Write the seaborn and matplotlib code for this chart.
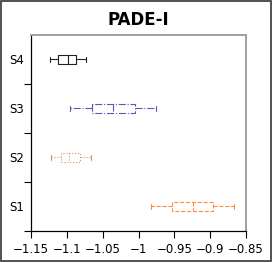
import numpy as np
import pandas as pd
import matplotlib
matplotlib.use("Agg")
import matplotlib.pyplot as plt
from matplotlib.patches import Rectangle
import seaborn as sns

# series (top to bottom) and five-number summaries: min, q1, median, q3, max
order = ["S4", "S3", "S2", "S1"]
s4 = [-1.1235, -1.1123, -1.0984, -1.0872, -1.0733]
s3 = [-1.0956, -1.0649, -1.0356, -1.0049, -0.9756]
s2 = [-1.1221, -1.1081, -1.0970, -1.0816, -1.0663]
s1 = [-0.9826, -0.9533, -0.9240, -0.8961, -0.8667]
values = {"S4": s4, "S3": s3, "S2": s2, "S1": s1}
colors = {"S4": "#222222", "S3": "#5a5ab4", "S2": "#e08c6c", "S1": "#ff8c3a"}
styles = {"S4": "-", "S3": "-.", "S2": ":", "S1": "--"}
xticks = [-1.15, -1.1, -1.05, -1.0, -0.95, -0.9, -0.85]
xticklabels = ["\u22121.15", "\u22121.1", "\u22121.05", "\u22121", "\u22120.95", "\u22120.9", "\u22120.85"]

sns.set_style("ticks")
plt.rcParams["font.family"] = ["DejaVu Sans"]
plt.rcParams["text.color"] = "black"
plt.rcParams["xtick.color"] = "black"
plt.rcParams["ytick.color"] = "black"

fig = plt.figure(figsize=(2.73, 2.63), dpi=100)
ax = fig.add_axes([0.1136, 0.1217, 0.7875, 0.7453])

for name in order:
    df = pd.DataFrame({"val": values[name], "series": name})
    ls = styles[name]
    sns.boxplot(data=df, x="val", y="series", order=order, ax=ax,
                color=colors[name], fill=False, width=0.17, whis=np.inf,
                linewidth=0.8,
                boxprops=dict(linestyle=ls),
                whiskerprops=dict(linestyle=ls),
                capprops=dict(linestyle="-"),
                medianprops=dict(linestyle=ls))

ax.set_xlim(-1.15, -0.85)
ax.set_ylim(3.5, -0.5)
ax.set_xticks(xticks)
ax.set_xticklabels(xticklabels, fontsize=8.5, color="black")
ax.set_yticks([0.5, 1.5, 2.5, 3.5])
ax.set_yticklabels([])
ax.set_yticks([0, 1, 2, 3], minor=True)
ax.set_yticklabels(order, minor=True, fontsize=8.5, color="black")
ax.tick_params(axis="y", which="minor", length=0, pad=5)
ax.tick_params(axis="both", which="major", length=5, width=0.8, color="black")
ax.set_xlabel("")
ax.set_ylabel("")
ax.set_title("PADE-I", fontsize=12, fontweight="bold", pad=7, color="black")

for side in ["left", "bottom"]:
    ax.spines[side].set_color("black")
    ax.spines[side].set_linewidth(0.9)
for side in ["top", "right"]:
    ax.spines[side].set_visible(True)
    ax.spines[side].set_color("#a0a0a0")
    ax.spines[side].set_linewidth(1.4)

fig.patches.append(Rectangle((0.002, 0.006), 0.99, 0.99, transform=fig.transFigure,
                             fill=False, edgecolor="#333333", linewidth=1.2))

fig.savefig("out.png", dpi=100)
